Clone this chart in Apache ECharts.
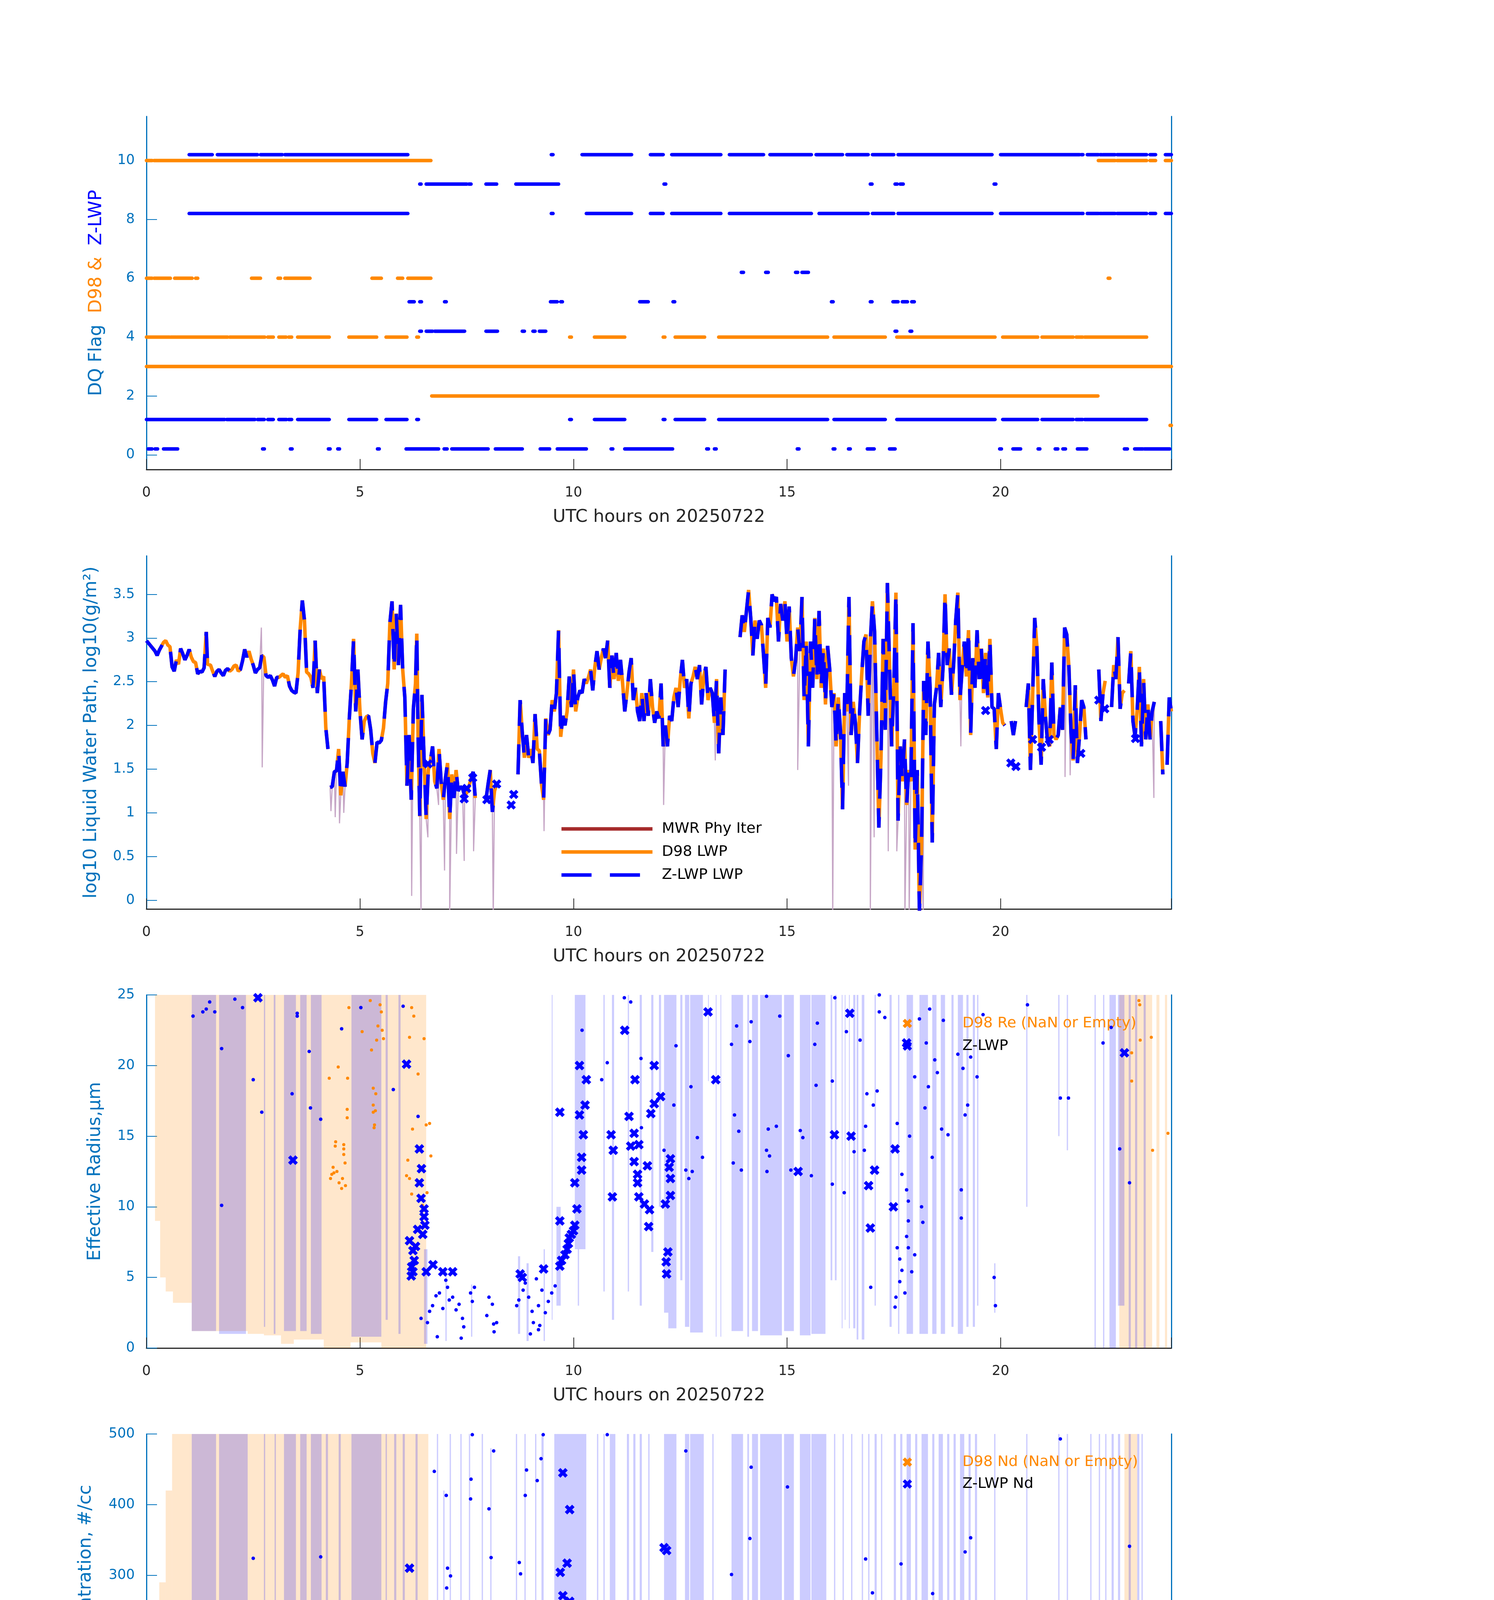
<!DOCTYPE html>
<html>
<head>
<meta charset="utf-8">
<script src="https://cdn.jsdelivr.net/npm/echarts@6/dist/echarts.min.js"></script>
<style>
  html, body { margin: 0; padding: 0; background: #fff; }
  #chart { width: 3825px; height: 6000px; }
</style>
</head>
<body>
<div id="chart"></div>
<script>
// ---- panel 1: DQ flags, [startHour, endHour] runs per flag level ----
const d98Flag10 = [[0,0.13],[0.18,0.26],[0.28,6.66],[22.29,22.68],[22.73,23.42],[23.5,23.63],[23.86,24]];
const d98Flag6 = [[0,0.13],[0.18,0.56],[0.66,1.07],[1.15,1.2],[2.46,2.67],[3.08,3.14],[3.24,3.83],[5.28,5.5],[5.88,6.0],[6.12,6.66],[22.52,22.56]];
const d98Flag4 = [[0,0.54],[0.57,0.69],[0.71,1.9],[1.95,2.6],[2.62,2.77],[2.84,2.97],[3.1,3.27],[3.33,3.4],[3.54,4.28],[4.74,5.39],[5.61,6.1],[6.33,6.37],[9.91,9.95],[10.49,11.2],[12.1,12.14],[12.38,13.07],[13.4,15.95],[16.1,17.3],[17.57,19.87],[20.05,20.87],[20.97,21.7],[21.77,21.92],[21.97,22.92],[22.94,23.42]];
const d98Flag3 = [[0,24]];
const d98Flag2 = [[6.68,22.28]];
const d98Flag1 = [[23.97,24]];
const zFlag10 = [[1.0,1.54],[1.66,2.6],[2.67,3.18],[3.24,6.12],[9.48,9.52],[10.2,11.36],[11.8,12.1],[12.3,13.45],[13.65,14.45],[14.6,15.57],[15.68,16.3],[16.4,16.9],[17.0,17.5],[17.6,19.8],[20.0,21.85],[21.89,21.93],[22.03,22.29],[22.33,22.37],[22.4,22.68],[22.73,23.42],[23.5,23.63],[23.86,24]];
const zFlag9 = [[6.4,6.43],[6.55,7.5],[7.55,7.6],[7.95,8.2],[8.65,9.65],[12.12,12.16],[16.95,16.99],[17.53,17.58],[17.65,17.72],[19.85,19.89]];
const zFlag8 = [[1.0,6.12],[9.48,9.52],[10.3,11.36],[11.8,12.1],[12.3,13.45],[13.65,15.57],[15.75,16.9],[17.0,17.5],[17.6,19.8],[20.0,21.85],[21.89,21.93],[22.03,22.29],[22.33,22.37],[22.4,22.68],[22.73,23.42],[23.5,23.63],[23.86,24]];
const zFlag6 = [[13.93,13.98],[14.5,14.56],[15.2,15.25],[15.35,15.5]];
const zFlag5 = [[6.15,6.27],[6.4,6.44],[6.98,7.02],[9.46,9.62],[9.7,9.74],[11.55,11.75],[12.33,12.37],[16.04,16.08],[16.95,16.99],[17.48,17.6],[17.7,17.82],[17.92,17.98]];
const zFlag4 = [[6.4,6.44],[6.55,6.7],[6.75,7.45],[7.95,8.22],[8.8,8.85],[9.05,9.1],[9.2,9.35],[17.53,17.57],[17.88,17.92]];
const zFlag1 = [[0,1.83],[1.88,2.54],[2.6,2.76],[2.84,2.97],[3.1,3.28],[3.33,3.4],[3.54,4.28],[4.74,5.39],[5.61,6.1],[6.33,6.37],[9.91,9.95],[10.49,11.2],[12.1,12.14],[12.38,13.07],[13.4,15.95],[16.1,17.3],[17.57,19.87],[20.05,20.87],[20.97,21.7],[21.77,21.92],[21.97,22.92],[22.94,23.42]];
const zFlag0 = [[0.04,0.13],[0.2,0.26],[0.4,0.73],[2.72,2.76],[3.37,3.41],[4.26,4.3],[4.48,4.52],[5.41,5.45],[6.08,6.84],[6.97,7.04],[7.15,8.0],[8.17,8.8],[9.22,9.44],[9.62,10.3],[10.88,10.92],[11.2,12.32],[13.12,13.16],[13.3,13.34],[15.24,15.28],[16.08,16.12],[16.44,16.48],[16.88,17.04],[17.4,17.53],[19.98,20.02],[20.29,20.47],[20.88,20.92],[21.28,21.34],[21.46,21.52],[21.8,22.02],[22.9,22.97],[23.14,23.33],[23.37,23.96]];
const d98FlagRows = [[d98Flag10,10],[d98Flag6,6],[d98Flag4,4],[d98Flag3,3],[d98Flag2,2],[d98Flag1,1]];
const zFlagRows = [[zFlag10,10.2],[zFlag9,9.2],[zFlag8,8.2],[zFlag6,6.2],[zFlag5,5.2],[zFlag4,4.2],[zFlag1,1.2],[zFlag0,0.2]];

// ---- panel 2: log10 LWP, [hour, value]; null = gap ----
const lwpLog = [[0,2.97],[0.1,2.91],[0.2,2.85],[0.25,2.8],[0.3,2.86],[0.4,2.95],[0.45,2.97],[0.5,2.92],[0.55,2.9],[0.6,2.67],[0.65,2.62],[0.7,2.75],[0.75,2.7],[0.8,2.88],[0.85,2.82],[0.9,2.75],[0.95,2.8],[1.0,2.87],[1.05,2.78],[1.1,2.73],[1.15,2.72],[1.2,2.59],[1.25,2.62],[1.3,2.61],[1.35,2.66],[1.4,3.07],[1.43,2.7],[1.5,2.69],[1.55,2.62],[1.6,2.56],[1.65,2.62],[1.7,2.64],[1.75,2.6],[1.8,2.57],[1.85,2.63],[1.9,2.65],[1.95,2.62],[2.0,2.64],[2.05,2.68],[2.1,2.69],[2.15,2.62],[2.2,2.64],[2.25,2.74],[2.3,2.87],[2.35,2.78],[2.4,2.85],[2.45,2.76],[2.5,2.69],[2.55,2.6],[2.6,2.64],[2.65,2.66],[2.7,2.8],[2.75,2.78],[2.8,2.57],[2.85,2.55],[2.9,2.57],[2.95,2.52],[3.0,2.45],[3.05,2.55],[3.1,2.55],[3.15,2.57],[3.2,2.59],[3.25,2.55],[3.3,2.57],[3.35,2.45],[3.4,2.4],[3.45,2.38],[3.5,2.37],[3.55,2.6],[3.6,3.11],[3.65,3.43],[3.7,3.2],[3.75,2.61],[3.8,2.59],[3.85,2.55],[3.9,2.43],[3.95,2.97],[4.0,2.37],[4.05,2.64],[4.1,2.53],[4.15,2.56],[4.2,1.97],[4.25,1.73],null,[4.3,1.29],[4.35,1.3],[4.4,1.47],[4.45,1.48],[4.5,1.73],[4.55,1.2],[4.6,1.47],[4.65,1.3],[4.7,1.57],[4.75,2.08],[4.8,2.48],[4.85,2.99],[4.9,2.16],[4.95,2.64],[5.0,2.16],[5.05,1.84],[5.1,2.05],[5.15,2.1],[5.2,2.11],[5.25,1.95],[5.3,1.68],[5.35,1.57],[5.4,1.81],[5.45,1.8],[5.5,1.83],[5.55,1.97],[5.6,2.27],[5.65,2.48],[5.7,3.17],[5.75,3.42],[5.8,2.64],[5.85,3.28],[5.9,2.69],[5.95,3.38],[6.0,2.64],[6.05,2.32],[6.1,1.31],[6.15,1.89],[6.2,1.15],[6.25,2.19],[6.3,2.48],[6.33,3.05],[6.36,1.89],[6.4,0.96],[6.45,2.35],[6.5,1.63],[6.55,0.93],[6.6,1.49],[6.65,1.6],[6.7,1.76],[6.75,1.36],[6.8,1.28],[6.85,1.73],[6.9,1.36],[6.95,1.15],[7.0,1.39],[7.05,1.57],[7.1,0.93],[7.15,1.44],[7.2,1.17],[7.25,1.49],[7.3,1.25],[7.35,1.3],[7.4,1.28],[7.45,1.2],[7.5,1.23],[7.55,1.3],[7.6,1.39],[7.65,1.47],[7.7,1.17],null,[7.95,1.15],[8.0,1.33],[8.05,1.49],[8.1,1.01],[8.15,1.25],[8.2,1.33],null,[8.7,1.44],[8.75,2.29],[8.8,1.92],[8.85,1.63],[8.9,1.89],[8.95,1.63],[9.0,1.73],[9.05,1.57],[9.1,2.13],[9.15,1.73],[9.2,1.71],[9.25,1.33],[9.3,1.15],[9.35,2.08],[9.4,1.89],[9.45,1.95],[9.5,2.29],[9.55,2.16],[9.6,2.37],[9.65,3.09],[9.7,1.87],[9.75,2.11],[9.8,2.0],[9.85,2.16],[9.9,2.56],[9.95,2.21],[10.0,2.64],[10.05,2.16],[10.1,2.32],[10.15,2.4],[10.2,2.37],[10.25,2.53],[10.3,2.48],[10.35,2.55],[10.4,2.64],[10.45,2.4],[10.5,2.67],[10.55,2.85],[10.6,2.64],[10.65,2.77],[10.7,2.88],[10.75,2.77],[10.8,2.97],[10.85,2.43],[10.9,2.8],[10.95,2.53],[11.0,2.83],[11.05,2.51],[11.1,2.75],[11.15,2.48],[11.2,2.16],[11.25,2.37],[11.3,2.61],[11.35,2.77],[11.4,2.29],[11.45,2.43],[11.5,2.16],[11.55,2.05],[11.6,2.37],[11.65,2.05],[11.7,2.37],[11.75,2.11],[11.8,2.53],[11.85,2.21],[11.9,2.03],[11.95,2.16],[12.0,2.08],[12.05,2.48],[12.1,1.76],[12.15,2.0],[12.2,1.76],[12.25,2.11],[12.3,2.05],[12.35,2.32],[12.4,2.43],[12.45,2.21],[12.5,2.53],[12.55,2.75],[12.6,2.43],[12.65,2.53],[12.7,2.08],[12.75,2.48],[12.8,2.56],[12.85,2.67],[12.9,2.53],[12.95,2.69],[13.0,2.24],[13.05,2.56],[13.1,2.67],[13.15,2.29],[13.2,2.43],[13.25,2.37],[13.3,2.03],[13.35,2.53],[13.4,1.68],[13.45,2.32],[13.5,1.89],[13.55,2.64],null,[13.9,3.01],[13.95,3.26],[14.0,3.07],[14.05,3.31],[14.1,3.55],[14.15,3.23],[14.2,2.8],[14.25,3.2],[14.3,2.99],[14.35,3.2],[14.4,3.15],[14.45,2.8],[14.5,2.43],[14.55,3.23],[14.6,3.12],[14.65,3.5],[14.7,3.42],[14.75,3.47],[14.8,2.96],[14.85,3.39],[14.9,3.2],[14.95,3.42],[15.0,2.96],[15.05,3.36],[15.1,2.77],[15.15,2.56],[15.2,2.75],[15.25,3.12],[15.3,2.85],[15.35,3.47],[15.4,2.29],[15.45,2.96],[15.5,1.76],[15.55,2.96],[15.6,2.43],[15.65,3.23],[15.7,2.53],[15.75,3.31],[15.8,2.43],[15.85,2.88],[15.9,2.24],[15.95,2.91],[16.0,2.64],[16.05,2.21],[16.1,2.37],[16.15,1.76],[16.2,2.32],[16.25,1.95],[16.3,1.04],[16.35,2.37],[16.4,2.16],[16.45,3.47],[16.5,1.89],[16.55,2.27],[16.6,2.03],[16.65,1.57],[16.7,2.16],[16.75,2.59],[16.8,2.96],[16.85,3.04],[16.9,2.11],[16.95,2.96],[17.0,3.42],[17.05,3.07],[17.1,1.95],[17.15,0.83],[17.2,1.63],[17.25,2.99],[17.3,1.95],[17.35,3.63],[17.4,2.69],[17.45,1.76],[17.5,2.43],[17.55,3.52],[17.6,0.91],[17.65,1.76],[17.7,1.36],[17.75,1.84],[17.8,1.09],[17.85,1.49],[17.9,1.36],[17.95,3.17],[18.0,0.58],[18.05,1.49],[18.1,-0.14],[18.15,0.64],[18.2,2.51],[18.25,1.89],[18.3,2.96],[18.35,2.43],[18.4,0.66],[18.45,2.24],[18.5,2.43],[18.55,2.83],[18.6,2.21],[18.65,2.64],[18.7,3.5],[18.75,2.69],[18.8,2.88],[18.85,2.35],[18.9,2.69],[18.95,3.2],[19.0,3.52],[19.05,2.29],[19.1,2.64],[19.15,2.96],[19.2,2.56],[19.25,3.09],[19.3,1.89],[19.35,2.77],[19.4,2.43],[19.45,3.09],[19.5,2.53],[19.55,2.88],[19.6,2.37],[19.65,2.83],[19.7,2.32],[19.75,2.99],[19.8,2.21],[19.85,2.19],[19.9,1.73],[19.95,2.37],[20.0,2.19],[20.05,2.03],[20.1,2.0],null,[20.25,2.05],[20.3,1.89],[20.35,2.05],null,[20.6,2.21],[20.65,2.48],[20.7,1.49],[20.75,2.32],[20.8,3.23],[20.85,2.91],[20.9,2.05],[20.95,1.55],[21.0,2.53],[21.05,2.11],[21.1,1.81],[21.15,1.76],[21.2,2.72],[21.25,1.89],[21.3,1.84],[21.35,1.89],[21.4,2.21],[21.45,1.95],[21.5,3.12],[21.55,3.04],[21.6,2.67],[21.65,1.92],[21.7,1.6],[21.75,2.46],[21.8,1.57],[21.85,1.89],[21.9,2.29],[21.95,2.21],[22.0,1.84],null,[22.3,2.64],[22.35,2.05],[22.4,2.37],[22.45,2.51],null,[22.6,2.21],[22.65,2.69],[22.7,2.53],[22.75,3.01],[22.8,2.19],[22.85,2.37],[22.9,2.4],null,[23.0,2.48],[23.05,2.85],[23.1,2.05],[23.15,1.87],[23.2,2.19],[23.25,2.67],[23.3,1.76],[23.35,2.53],[23.4,1.84],[23.45,2.24],[23.5,1.84],[23.55,2.16],[23.6,2.27],null,[23.75,2.05],[23.8,1.44],null,[23.9,1.55],[23.95,2.32],[24.0,2.16]];
const mwrDips = [[2.69,3.12],[2.71,1.52],[4.32,1.02],[4.42,0.95],[4.52,0.88],[4.62,1.0],[6.21,0.05],[6.43,-0.2],[6.59,0.72],[6.84,1.09],[6.98,0.34],[7.1,-0.2],[7.26,0.53],[7.44,0.45],[7.66,0.56],[8.12,-0.2],[9.31,0.79],[12.11,1.09],[13.32,1.6],[15.25,1.49],[16.07,-0.2],[16.44,1.31],[16.95,-0.2],[17.04,0.72],[17.37,0.56],[17.57,0.56],[17.76,-0.2],[17.86,-0.2],[18.19,-0.2],[19.07,1.76],[21.51,1.41],[21.63,1.43],[23.59,1.17]];
const lwpZCross = [[6.59,1.56],[7.44,1.16],[7.5,1.28],[7.64,1.4],[7.97,1.15],[8.2,1.33],[8.54,1.09],[8.6,1.21],[19.65,2.17],[20.24,1.57],[20.36,1.53],[20.75,1.84],[20.96,1.75],[21.14,1.84],[21.88,1.68],[22.3,2.29],[22.44,2.19],[23.16,1.85]];

// ---- shaded ranges, [startHour, endHour, low, high] ----
const reD98Band = [[0.2,0.32,9,25],[0.32,0.45,5,25],[0.45,0.62,4,25],[0.62,1.06,3.2,25],[1.06,2.37,1.2,25],[2.37,2.75,1.0,25],[2.75,3.15,0.9,25],[3.15,3.45,0.3,25],[3.45,4.15,0.6,25],[4.15,4.78,0,25],[4.78,5.5,0.4,25],[5.5,6.55,0,25],[22.78,23.55,0,25],[23.65,23.72,0,25],[23.85,23.9,0,25]];
const reZBand = [[1.06,1.63,1.2,25],[1.7,2.33,1.0,25],[2.75,2.78,1.5,25],[2.98,3.02,1.0,25],[3.22,3.5,1.2,25],[3.6,3.75,1.2,25],[3.85,4.1,1.0,25],[4.8,5.5,0.8,25],[5.6,5.65,2,25],[5.9,5.95,1,25],[6.5,6.58,0.3,7],[7.0,7.03,0.5,5.5],[7.6,7.63,0.8,4.5],[8.7,8.75,1,6.5],[8.9,8.95,0.5,6],[9.3,9.33,0.5,7],[9.49,9.51,2,25],[9.6,9.7,3,10],[10.03,10.28,7,25],[10.1,10.13,3,7],[10.7,10.73,4,25],[10.9,10.95,2,25],[11.27,11.3,4,25],[11.55,11.6,3,25],[11.82,11.87,6.8,25],[12.0,12.05,10,25],[12.12,12.22,2.5,25],[12.22,12.41,1.4,25],[12.5,12.55,4.8,25],[12.61,12.71,1.5,25],[12.73,13.03,1.1,25],[13.15,13.17,18.9,25],[13.33,13.35,0.8,25],[13.44,13.46,0.8,25],[13.7,13.97,1.2,25],[14.07,14.11,0.8,25],[14.18,14.32,1.2,25],[14.37,14.88,0.9,25],[14.93,15.16,1.2,25],[15.3,15.55,0.9,25],[15.57,15.9,1.0,25],[16.02,16.06,4.8,25],[16.12,16.16,4.8,25],[16.28,16.3,1.4,25],[16.35,16.37,2,25],[16.45,16.47,1.4,25],[16.55,16.6,1.4,25],[16.63,16.67,0.6,25],[16.75,16.81,0.6,25],[17.05,17.08,3,25],[17.4,17.45,1.5,25],[17.6,17.63,1,25],[17.8,17.95,1,25],[18.1,18.3,1,25],[18.4,18.5,1,25],[18.6,18.7,1,25],[18.85,18.9,1.5,25],[19.0,19.12,1,25],[19.2,19.25,1.5,25],[19.35,19.4,1.5,25],[19.45,19.48,3,25],[19.85,19.88,2.5,6],[20.6,20.63,10,25],[21.35,21.38,15,25],[21.55,21.58,14,25],[22.2,22.23,0,25],[22.4,22.43,0,25],[22.55,22.7,0,25],[22.75,22.9,3,25],[23.0,23.05,0,25],[23.15,23.2,0,25],[23.35,23.4,0,25]];
const ndD98Band = [[0.2,0.3,0,50],[0.3,0.45,0,290],[0.45,0.6,0,420],[0.6,1.06,0,500],[1.06,6.6,0,500],[22.9,23.2,0,500]];
const ndZBand = [[1.06,1.63,0,500],[1.7,2.37,0,500],[2.75,2.78,0,500],[3.0,3.03,0,500],[3.22,3.5,0,500],[3.6,3.75,0,500],[3.85,4.1,0,500],[4.2,4.25,0,500],[4.5,4.55,0,500],[4.8,5.5,0,500],[5.6,5.63,0,500],[5.8,5.85,0,500],[6.0,6.05,0,500],[6.3,6.35,0,500],[6.8,6.83,0,500],[6.95,6.98,0,420],[7.1,7.13,30,500],[7.35,7.38,0,500],[7.55,7.58,30,500],[7.85,7.88,50,500],[8.05,8.08,0,480],[8.65,8.68,0,500],[8.85,8.88,0,500],[9.1,9.13,0,500],[9.25,9.3,0,500],[9.55,10.3,0,500],[10.55,10.58,0,500],[10.7,10.73,0,500],[10.85,10.98,0,500],[11.25,11.3,0,500],[11.4,11.45,0,500],[11.55,11.6,0,500],[11.75,11.78,0,500],[12.12,12.41,0,500],[12.61,12.71,0,500],[12.73,13.05,0,500],[13.25,13.28,0,500],[13.7,13.97,0,500],[14.07,14.11,0,500],[14.18,14.32,0,500],[14.37,14.88,0,500],[14.93,15.16,0,500],[15.3,15.55,0,500],[15.57,15.92,0,500],[16.1,16.13,0,500],[16.3,16.33,0,500],[16.5,16.53,0,500],[16.75,16.78,0,500],[16.9,16.93,0,500],[17.05,17.1,0,500],[17.2,17.23,0,500],[17.5,17.55,0,500],[17.65,17.7,0,500],[17.8,17.9,0,500],[18.0,18.05,0,500],[18.15,18.3,0,500],[18.4,18.45,0,500],[18.55,18.65,0,500],[18.75,18.8,0,500],[18.9,18.95,0,500],[19.05,19.15,0,500],[19.25,19.3,0,500],[19.4,19.45,0,500],[19.85,19.88,0,500],[20.6,20.63,0,500],[21.35,21.38,0,500],[21.55,21.58,0,500],[22.1,22.13,0,500],[22.3,22.33,0,500],[22.45,22.48,0,500],[22.6,22.65,0,500],[22.75,22.8,0,500],[23.0,23.05,0,500],[23.2,23.25,0,500],[23.3,23.33,0,500]];
const odD98Band = [[0.2,4.15,7,100],[4.15,4.78,0,6],[4.78,4.95,0,100],[4.95,5.5,0,4],[5.6,6.1,3,100],[6.1,6.55,0,100],[22.75,23.1,3,100],[23.3,23.55,2,100]];
const odZBand = [[1.06,1.63,5,100],[1.7,2.33,5,100],[2.75,2.78,5,100],[3.0,3.03,4,100],[3.22,3.5,4,100],[3.6,3.75,4,100],[3.85,4.1,3,100],[5.02,5.05,2,90],[5.15,5.18,2,80],[5.3,5.33,2,75],[5.6,6.1,2,100],[6.7,6.73,2,60],[7.0,7.03,3,70],[7.25,7.28,2,55],[7.45,7.48,3,50],[7.9,7.93,3,50],[8.1,8.13,5,45],[8.7,8.73,10,75],[8.85,8.9,10,65],[9.05,9.1,5,80],[9.3,9.35,5,100],[9.45,9.5,10,100],[9.6,9.63,5,100],[9.75,9.78,5,100],[9.9,9.95,5,100],[10.05,10.1,5,100],[10.2,10.23,5,90],[10.75,10.98,3,100],[11.25,11.3,5,100],[11.5,11.55,5,100],[11.7,11.75,5,100],[12.12,12.41,2,100],[12.61,12.71,2,100],[12.73,13.05,2,100],[13.7,13.97,2,100],[14.07,14.11,2,100],[14.18,14.32,2,100],[14.37,14.88,2,100],[14.93,15.16,2,100],[15.3,15.55,2,100],[15.57,15.92,2,100],[16.1,16.13,2,100],[16.3,16.33,3,100],[16.55,16.58,2,100],[16.8,16.83,3,100],[17.05,17.1,2,100],[17.4,17.43,2,90],[17.55,17.6,2,100],[17.8,17.9,2,100],[18.1,18.3,2,100],[18.4,18.5,2,100],[18.6,18.7,2,100],[18.85,18.9,2,100],[19.0,19.1,2,100],[19.2,19.25,2,100],[19.35,19.4,2,100],[19.47,19.5,5,100],[19.85,19.88,10,55],[20.6,20.63,5,80],[21.3,21.33,5,70],[21.4,21.43,2,85],[21.55,21.58,5,70],[22.1,22.13,2,100],[22.3,22.33,2,100],[22.45,22.48,2,100],[22.6,22.7,2,100],[23.0,23.05,2,100],[23.2,23.25,2,100],[23.35,23.4,2,100]];

// ---- panel 3: effective radius points ----
const reZCross = [[2.61,24.8],[6.09,20.1],[3.43,13.3],[6.39,14.1],[6.44,12.7],[6.39,11.7],[6.43,10.6],[6.5,9.85],[6.5,9.3],[6.52,8.7],[6.47,8.05],[6.16,7.6],[6.24,6.9],[6.27,6.2],[6.21,5.75],[6.24,5.4],[6.3,7.2],[6.35,8.4],[6.2,5.1],[6.55,5.4],[6.71,5.9],[6.94,5.4],[7.17,5.4],[8.75,5.25],[8.8,5.0],[9.3,5.6],[9.68,5.8],[9.72,6.2],[9.68,9.0],[9.68,16.7],[9.8,6.6],[9.85,7.0],[9.88,7.4],[9.9,7.8],[9.95,8.05],[10.0,8.3],[10.03,8.7],[10.08,9.85],[10.03,11.7],[10.19,12.6],[10.19,13.5],[10.23,15.1],[10.14,16.5],[10.27,17.2],[10.3,19.0],[10.14,20.0],[10.88,15.1],[10.93,14.0],[10.91,10.7],[11.2,22.5],[11.3,16.4],[11.42,15.2],[11.34,14.3],[11.53,14.4],[11.42,13.2],[11.73,12.9],[11.5,12.3],[11.5,11.7],[11.53,10.7],[11.66,10.2],[11.78,9.8],[11.76,8.6],[11.44,19.0],[11.89,20.0],[11.89,17.3],[12.04,17.8],[11.81,16.6],[12.27,13.4],[12.24,12.8],[12.27,12.0],[12.27,10.8],[12.15,10.2],[12.21,6.8],[12.17,6.1],[12.18,5.25],[13.15,23.8],[13.33,19.0],[15.26,12.5],[16.11,15.1],[16.5,15.0],[16.47,23.7],[17.05,12.6],[16.91,11.5],[16.95,8.5],[17.49,10.0],[17.53,14.1],[17.8,21.6],[22.9,20.9]];
const reZDots = [[1.09,23.5],[1.32,23.8],[1.4,24.0],[1.48,24.5],[1.6,23.8],[2.07,24.7],[2.25,24.1],[1.76,21.2],[1.76,10.1],[2.5,19.0],[2.7,16.7],[3.53,23.7],[3.53,23.5],[3.81,21.0],[4.57,22.6],[5.02,24.1],[3.41,18.0],[3.84,17.0],[4.08,16.2],[5.78,18.3],[6.01,24.2],[6.36,16.4],[6.43,2.1],[6.63,2.6],[6.7,3.0],[6.78,3.7],[6.86,3.9],[6.94,2.8],[7.01,4.8],[7.05,4.3],[7.09,3.4],[7.17,3.6],[7.25,2.7],[7.32,3.1],[7.4,2.1],[7.43,1.5],[7.37,0.7],[7.59,3.9],[7.63,3.3],[7.68,4.3],[6.81,0.8],[6.58,1.8],[8.02,3.6],[8.1,3.1],[8.13,1.7],[8.14,1.15],[8.2,1.8],[7.97,2.3],[8.67,3.0],[8.72,3.4],[8.82,4.1],[8.87,4.6],[8.95,3.6],[9.03,2.6],[9.06,1.8],[9.13,4.9],[9.18,3.0],[9.26,4.1],[9.21,1.6],[9.34,2.5],[9.41,3.3],[9.49,3.9],[9.57,4.4],[8.99,1.0],[9.18,1.3],[10.2,22.5],[10.66,19.0],[10.79,20.2],[11.19,24.8],[11.34,24.5],[11.58,20.5],[11.59,15.6],[12.12,14.0],[12.35,17.2],[12.4,21.4],[12.63,12.6],[12.7,12.0],[12.75,18.5],[12.78,12.5],[12.9,14.9],[13.02,13.5],[13.7,21.5],[13.77,16.5],[13.82,22.8],[13.87,15.35],[13.74,13.1],[13.93,12.6],[14.13,21.7],[14.16,23.1],[14.52,24.9],[14.56,15.5],[14.59,13.6],[14.52,14.0],[14.53,12.5],[14.75,15.7],[14.83,23.5],[15.03,20.7],[15.09,12.6],[15.31,15.4],[15.37,14.9],[15.57,12.2],[15.65,21.5],[15.68,18.6],[15.71,23.0],[16.06,18.9],[16.06,11.6],[16.12,24.8],[16.34,11.0],[16.39,22.4],[16.57,13.9],[16.71,21.8],[16.81,14.0],[16.84,15.7],[16.87,18.0],[17.02,17.2],[17.11,18.2],[17.16,23.8],[17.16,25.0],[17.29,23.4],[16.96,4.3],[17.58,15.9],[17.69,12.3],[17.8,11.2],[17.84,10.4],[17.84,9.0],[17.8,7.9],[17.84,7.1],[17.58,7.1],[17.64,6.3],[17.69,5.5],[17.64,4.7],[17.76,3.9],[17.55,3.6],[17.53,2.9],[17.87,15.0],[17.92,5.4],[17.99,6.6],[17.99,19.2],[18.1,23.3],[18.15,10.0],[18.18,8.9],[18.23,17.0],[18.26,21.6],[18.31,18.5],[18.34,24.0],[18.4,13.5],[18.46,20.4],[18.52,19.5],[18.62,15.5],[18.66,23.2],[18.77,15.1],[19.0,20.8],[19.08,11.2],[19.08,9.2],[19.12,19.8],[19.17,16.5],[19.23,17.2],[19.3,20.6],[19.45,19.2],[19.59,23.6],[19.85,5.0],[19.88,3.0],[20.63,24.3],[21.4,17.7],[21.59,17.7],[22.4,21.6],[22.79,14.1],[23.02,11.7],[22.59,22.7]];
const reD98Dots = [[4.74,24.1],[5.24,24.6],[5.47,24.3],[5.5,23.8],[5.42,22.8],[5.52,22.5],[5.05,22.4],[5.39,21.8],[5.55,21.9],[5.27,21.1],[6.21,24.1],[6.26,23.5],[6.16,22.0],[6.5,21.9],[4.49,19.9],[4.28,19.1],[4.71,19.1],[5.31,18.4],[5.37,18.0],[6.36,19.4],[5.31,17.2],[5.36,16.8],[5.31,16.7],[4.7,16.9],[4.7,16.3],[5.34,15.8],[5.33,15.6],[6.63,15.9],[6.55,15.8],[6.23,15.5],[4.43,14.6],[4.62,14.4],[4.42,14.3],[4.62,14.1],[4.62,13.7],[4.46,12.5],[4.65,13.1],[4.37,12.8],[4.34,12.3],[4.39,12.4],[4.31,12.0],[4.59,12.0],[4.51,11.7],[4.66,11.5],[4.57,11.3],[6.12,13.3],[6.09,12.2],[6.16,12.0],[6.66,13.6],[6.57,11.0],[6.21,10.9],[6.46,10.1],[23.24,24.6],[23.26,24.3],[23.27,21.8],[23.07,20.9],[23.53,22.0],[23.07,18.9],[23.56,14.0],[23.92,15.2]];

// ---- panel 4: droplet concentration points ----
const ndZCross = [[9.75,445],[9.91,393],[9.85,317],[9.69,304],[9.75,271],[9.91,263],[9.88,245],[9.8,239],[10.0,214],[9.64,194],[9.92,190],[9.8,181],[9.83,175],[9.72,155],[10.03,157],[9.98,137],[10.06,111],[10.11,103],[9.8,93],[9.95,86],[10.11,86],[10.19,76],[10.08,70],[9.68,58],[10.14,47],[10.19,30],[10.27,17],[10.2,5],[10.3,3],[9.3,185],[9.27,114],[8.72,199],[8.81,258],[6.16,310],[6.27,229],[6.71,227],[6.71,190],[6.24,165],[6.32,153],[6.29,126],[6.35,104],[6.55,107],[6.2,93],[6.27,83],[6.5,96],[6.52,73],[6.3,75],[6.33,88],[6.42,52],[6.09,65],[6.39,57],[6.16,42],[6.21,34],[6.47,40],[6.39,17],[6.94,112],[7.17,94],[3.43,217],[2.61,22],[10.88,122],[10.93,114],[10.31,130],[11.32,221],[12.12,339],[12.18,335],[12.17,255],[12.2,185],[11.62,85],[11.78,85],[11.76,60],[11.53,57],[11.32,40],[11.47,34],[11.42,21],[11.27,12],[11.4,10],[11.6,15],[11.7,25],[11.85,8],[12.0,5],[12.2,8],[11.89,21],[12.12,60],[12.27,53],[12.24,34],[12.04,40],[12.27,14],[13.12,21],[13.33,9],[15.26,19],[16.48,153],[16.98,139],[17.49,91],[16.88,47],[16.42,24],[16.91,24],[16.99,21],[17.53,24],[22.9,17]];
const ndZDots = [[1.09,184],[1.77,177],[2.5,324],[4.08,326],[2.25,83],[2.67,61],[3.81,74],[3.94,67],[3.41,50],[1.14,35],[1.37,36],[1.32,25],[1.48,17],[1.6,19],[2.45,25],[3.18,22],[3.84,45],[3.95,21],[4.88,43],[5.02,31],[4.8,22],[5.22,29],[5.81,62],[5.72,39],[6.02,109],[6.24,253],[6.74,447],[7.02,413],[7.05,310],[7.12,299],[7.03,282],[7.06,230],[7.17,230],[7.63,499],[7.6,436],[7.59,408],[8.13,476],[8.02,394],[8.07,325],[8.73,318],[8.76,302],[8.87,413],[8.9,449],[9.15,434],[9.24,465],[9.29,499],[10.79,499],[10.66,142],[12.63,476],[12.91,207],[12.75,182],[12.99,38],[13.7,301],[13.82,211],[13.9,153],[13.92,135],[14.16,453],[14.13,352],[14.36,187],[14.5,196],[14.55,95],[14.75,247],[15.01,425],[15.01,66],[15.14,143],[14.83,52],[15.14,49],[15.68,37],[16.84,323],[16.98,184],[17.0,275],[17.16,238],[17.16,233],[17.29,255],[17.17,59],[17.67,316],[17.66,116],[17.99,114],[17.64,74],[17.84,64],[17.92,68],[18.1,58],[18.2,92],[18.51,122],[18.41,274],[18.62,134],[18.68,94],[19.0,111],[19.08,56],[19.17,333],[19.3,353],[19.24,151],[19.2,116],[19.4,127],[19.45,239],[20.63,147],[21.4,493],[22.38,115],[22.79,38],[23.02,341],[22.98,40]];
const ndZLowDots = [[1.1,2],[1.3,1],[1.5,3],[1.8,1],[2.0,2],[2.3,1],[2.6,4],[2.9,2],[3.2,1],[3.5,3],[3.8,2],[4.1,1],[4.4,2],[4.8,3],[5.1,1],[5.4,2],[5.7,4],[6.0,3],[6.3,2],[6.6,5],[9.4,2],[9.6,1],[10.3,2],[10.5,1],[10.7,3],[10.9,1],[11.1,2],[11.3,1],[11.5,4],[11.7,2],[11.9,3],[12.1,1],[12.3,2],[12.5,1],[12.7,1],[12.9,2],[13.1,1],[13.3,3],[13.5,1],[13.7,2],[13.9,1],[14.1,2],[14.3,3],[14.5,1],[14.7,2],[14.9,1],[15.1,3],[15.3,1],[15.5,2],[15.7,4],[15.9,2],[16.1,1],[16.3,3],[16.5,2],[16.7,5],[16.9,2],[17.1,1],[17.3,3],[17.5,1],[17.7,4],[17.9,2],[18.1,6],[18.3,3],[18.5,2],[18.7,5],[18.9,1],[19.1,3],[19.3,2],[19.5,1],[19.7,2],[20.0,1],[20.3,1],[20.6,2],[20.9,1],[21.2,2],[21.5,1],[21.8,3],[22.1,1],[22.4,2],[22.7,1],[23.0,4],[23.3,1],[23.6,2],[23.9,1]];
const ndD98Zero = [[0.24,0],[6.7,0]];

// ---- panel 5: optical depth points ----
const odZCross = [[9.63,97.7],[10.9,85.9],[9.91,81.0],[10.0,75.4],[9.69,72.5],[9.89,66.2],[9.98,62.3],[10.02,56.3],[8.73,61.5],[9.92,47.5],[6.33,55.3],[6.25,49.7],[6.29,38.9],[3.43,39.9],[2.61,26.6],[9.77,38.7],[10.26,37.7],[9.8,36.4],[10.03,35.1],[9.75,33.1],[9.95,33.1],[10.23,33.1],[10.26,31.1],[9.8,28.5],[10.03,27.2],[9.88,25.9],[10.15,23.9],[10.11,22.3],[9.8,22.0],[9.83,19.3],[10.11,18.0],[10.11,13.4],[10.11,11.5],[9.3,12.8],[9.27,7.9],[8.72,14.1],[8.81,17.7],[6.37,29.8],[6.4,27.9],[6.43,25.6],[6.27,23.6],[6.4,19.3],[6.5,17.4],[6.5,16.1],[6.68,15.4],[6.16,14.8],[6.2,12.8],[6.09,18.0],[6.32,13.4],[6.47,10.2],[6.71,8.2],[6.24,9.5],[6.55,5.9],[6.16,3.6],[6.94,6.6],[7.17,7.2],[10.88,40.3],[10.88,36.1],[11.32,45.6],[11.3,36.1],[11.5,36.1],[11.62,33.1],[11.38,31.5],[11.42,29.5],[11.7,29.2],[11.42,26.2],[11.76,25.6],[11.42,21.6],[11.78,20.0],[11.5,20.3],[11.58,17.4],[11.73,16.7],[11.81,14.8],[11.89,13.1],[11.55,11.8],[12.04,12.8],[12.12,14.1],[12.2,16.1],[12.27,20.0],[12.2,23.3],[12.23,25.9],[12.27,30.8],[12.35,34.4],[12.2,27.2],[11.19,8.9],[10.88,7.2],[13.15,11.5],[13.33,8.2],[15.26,7.5],[16.11,16.1],[16.48,20.0],[16.9,24.6],[16.95,12.1],[17.04,12.1],[16.47,9.2],[16.97,60.9],[16.9,2.4],[17.5,6.9],[17.53,5.6],[22.9,5.2]];
const odZDots = [[1.39,76.5],[1.76,71.1],[2.5,41.8],[2.7,58.0],[3.95,48.9],[3.69,39.9],[3.61,35.7],[4.08,34.8],[3.84,29.8],[3.77,22.6],[1.09,35.6],[1.04,26.1],[1.32,28.5],[1.48,28.5],[1.76,28.3],[2.07,27.2],[2.37,27.5],[2.44,32.1],[1.4,25.2],[1.45,23.0],[1.6,22.2],[1.14,20.0],[1.63,18.8],[1.42,18.7],[1.29,13.8],[1.83,12.8],[1.99,11.5],[2.19,16.1],[2.34,20.0],[2.45,15.4],[2.61,14.8],[2.76,18.0],[2.84,13.1],[2.89,10.2],[3.15,12.8],[3.23,15.4],[3.38,12.1],[3.46,11.5],[3.57,20.7],[3.74,18.0],[3.92,14.4],[3.95,11.5],[3.19,24.3],[3.41,25.8],[3.61,22.3],[1.17,9.5],[1.52,8.9],[1.91,7.5],[2.22,7.2],[2.99,5.6],[3.07,5.2],[3.92,8.2],[4.08,7.2],[4.23,3.6],[4.34,0.7],[4.54,0.3],[4.62,1.6],[4.85,12.8],[4.93,6.9],[5.0,4.9],[5.13,2.3],[5.24,1.6],[5.39,2.3],[5.5,3.6],[4.85,23.3],[5.7,32.1],[5.75,42.2],[5.85,36.7],[5.93,40.3],[5.96,34.4],[5.72,30.2],[5.82,21.3],[5.89,17.4],[5.98,22.6],[5.67,9.5],[5.78,12.5],[5.85,7.5],[6.01,6.2],[6.81,38.0],[6.86,23.0],[7.37,36.1],[7.01,12.8],[7.09,10.8],[7.17,8.9],[7.32,14.8],[7.4,15.4],[7.45,18.4],[7.63,14.8],[7.63,7.5],[7.09,3.6],[6.94,8.9],[7.99,9.5],[8.07,14.8],[8.13,20.0],[8.2,18.4],[8.02,8.9],[8.72,22.3],[8.78,26.2],[8.83,35.4],[8.87,39.0],[8.9,42.3],[8.98,40.7],[8.95,34.1],[8.8,42.6],[9.0,71.5],[9.18,90.2],[9.23,67.2],[9.2,64.7],[9.35,95.4],[9.37,88.9],[9.49,90.2],[9.49,86.2],[9.46,81.0],[9.57,67.2],[9.57,64.9],[9.6,69.8],[9.61,75.7],[9.44,45.9],[9.57,44.3],[9.57,49.8],[8.95,28.2],[8.99,27.2],[8.99,24.6],[9.26,20.0],[9.03,17.4],[9.26,11.1],[9.52,5.6],[10.49,7.5],[10.42,4.9],[10.57,10.8],[10.51,3.9],[10.8,14.8],[10.96,10.2],[11.04,16.7],[11.07,8.9],[11.27,5.6],[10.79,71.9],[12.12,4.9],[11.96,5.9],[12.43,4.3],[12.51,11.8],[12.58,7.9],[12.66,37.4],[12.74,36.4],[12.74,23.6],[12.86,17.7],[12.89,21.0],[13.02,45.2],[12.97,3.0],[13.05,6.2],[13.2,1.6],[13.4,19.0],[13.43,1.0],[13.71,21.0],[13.77,62.3],[13.87,53.1],[13.94,60.0],[14.0,43.9],[14.02,36.7],[13.82,26.6],[13.88,23.6],[14.01,18.7],[14.04,16.7],[14.05,24.6],[14.13,13.8],[14.16,81.6],[14.16,88.9],[14.19,58.7],[14.32,27.2],[14.36,94.8],[14.39,65.9],[14.39,60.0],[14.44,43.0],[14.41,34.4],[14.47,80.3],[14.52,83.6],[14.56,89.2],[14.59,82.0],[14.64,96.2],[14.67,87.5],[14.72,77.7],[14.75,70.2],[14.8,19.3],[14.84,44.3],[14.87,27.9],[14.9,17.7],[15.01,65.2],[15.06,39.0],[15.14,36.4],[15.15,45.9],[14.87,8.9],[14.98,13.4],[15.21,8.9],[15.29,26.2],[15.32,4.9],[15.37,19.7],[15.41,43.9],[15.49,49.8],[15.52,16.1],[15.6,43.3],[15.68,45.2],[15.71,54.8],[15.74,31.5],[15.37,94.6],[15.99,6.2],[16.14,3.3],[16.22,33.8],[16.22,60.0],[16.34,20.3],[16.53,16.7],[16.58,79.0],[16.64,23.0],[16.76,62.6],[16.84,56.7],[17.01,27.9],[17.07,10.2],[17.12,2.6],[17.3,40.7],[17.35,8.2],[17.53,4.3],[17.69,40.0],[17.69,24.6],[17.84,7.5],[17.92,11.5],[17.99,16.4],[18.08,18.7],[18.15,45.6],[18.23,19.0],[18.26,16.4],[18.31,10.8],[18.38,21.6],[18.38,8.9],[18.43,81.0],[18.51,35.1],[18.57,14.1],[18.62,22.6],[18.66,43.0],[18.69,54.8],[18.72,52.1],[18.76,78.7],[18.77,69.5],[18.8,18.4],[18.82,39.0],[18.89,14.1],[18.93,37.0],[19.0,47.2],[19.02,16.7],[19.08,18.0],[19.16,32.8],[19.2,76.9],[19.23,22.0],[19.3,52.0],[19.31,27.5],[19.39,37.0],[19.44,33.1],[19.47,25.2],[19.51,12.8],[19.62,6.2],[19.7,3.6],[19.85,30.5],[19.87,46.6],[20.13,6.9],[20.17,1.6],[20.44,5.6],[20.55,26.6],[20.6,14.8],[20.63,80.7],[20.7,3.0],[20.86,10.5],[21.01,10.8],[21.09,4.9],[21.32,28.5],[21.37,26.6],[21.4,24.6],[21.38,81.0],[21.4,5.6],[21.48,1.6],[21.6,4.3],[21.71,2.3],[21.79,4.3],[22.11,17.4],[22.17,9.5],[22.25,4.3],[22.4,35.7],[22.53,13.4],[22.56,9.5],[22.79,79.7],[22.82,21.6],[22.99,29.2],[23.1,13.4],[23.18,4.3],[23.29,2.0],[23.41,0.7],[23.72,4.9],[23.95,7.5]];
const odD98 = [[0.24,7.0],[0.5,6.9],[0.8,7.0],[1.0,6.8],[1.3,6.9],[1.6,7.0],[1.9,6.9],[2.2,6.9],[2.5,6.7],[2.8,6.8],[3.1,6.6],[3.4,6.5],[3.7,6.3],[4.0,6.2],[4.1,5.5],[4.2,4.5],[4.25,3.0],[4.3,2.2],[4.35,1.5],[4.45,2.5],[4.55,1.0],[4.65,3.0],[4.72,5.0],[4.8,6.3],[4.88,6.8],[4.95,5.5],[5.05,4.0],[5.12,3.0],[5.2,2.0],[5.3,2.6],[5.4,3.5],[5.5,5.0],[5.6,6.2],[5.7,6.8],[5.8,6.9],[5.9,6.0],[6.0,4.6],[6.08,4.0],[6.15,5.5],[6.25,4.5],[6.35,2.6],[6.45,1.5],[6.55,2.8],[6.65,2.0],null,[22.45,6.5],[22.55,5.4],[22.65,6.2],[22.75,5.2],[22.85,6.2],[22.95,5.8],[23.05,5.0],[23.15,6.0],[23.25,5.0],[23.35,4.5],[23.45,5.6],[23.55,4.0],[23.65,3.1],[23.75,3.5],[23.9,4.8],[24.0,5.6]];

// ---- layout / style constants ----
const BLUE = '#0000FF', ORANGE = '#FF8800', AXBLUE = '#0072BD', DARK = '#262626';
const FONT = 'DejaVu Sans';
const X_SYMBOL = 'path://M0,2.5L2.5,0L5,2.5L7.5,0L10,2.5L7.5,5L10,7.5L7.5,10L5,7.5L2.5,10L0,7.5L2.5,5Z';
const panelTops = [298, 1423, 2547, 3671, 4797];
const panelH = 904;
const yRanges = [[-0.5, 11.5], [-0.1, 3.94], [0, 25], [0, 500], [0, 100]];
const yTicks = [[0,2,4,6,8,10], [0,0.5,1,1.5,2,2.5,3,3.5], null, null, null];
const yIntervals = [null, null, 5, 100, 20];
const yNameGaps = [105, 118, 108, 132, 132];

function gapped(pairs) {
  // null entries become breaks in the line
  const out = [];
  let lastX = 0;
  pairs.forEach(p => {
    if (p === null) out.push([lastX + 0.001, null]);
    else { out.push(p); lastX = p[0]; }
  });
  return out;
}

function runsToLine(runs, level) {
  const out = [];
  runs.forEach(([a, b]) => {
    out.push([a, level], [Math.max(b, a + 0.03), level], [b, null]);
  });
  return out;
}

function bandSeries(idx, bands, color, z) {
  return {
    type: 'custom', xAxisIndex: idx, yAxisIndex: idx * 2, silent: true, z: z, clip: true,
    data: bands,
    encode: { x: [0, 1], y: [2, 3] },
    renderItem: (params, api) => {
      const p0 = api.coord([api.value(0), api.value(3)]);
      const p1 = api.coord([api.value(1), api.value(2)]);
      return {
        type: 'rect',
        shape: { x: p0[0], y: p0[1], width: Math.max(2, p1[0] - p0[0]), height: p1[1] - p0[1] },
        style: { fill: color }
      };
    }
  };
}

function scatter(idx, name, data, color, symbol, size, z) {
  return {
    type: 'scatter', name: name, xAxisIndex: idx, yAxisIndex: idx * 2, data: data,
    symbol: symbol, symbolSize: size, itemStyle: { color: color, opacity: 1 }, z: z, silent: true
  };
}

const grids = panelTops.map(t => ({ left: 375, top: t, width: 2624, height: panelH }));

const xAxes = panelTops.map((t, i) => ({
  gridIndex: i, type: 'value', min: 0, max: 24, interval: 5,
  axisLine: { show: true, onZero: false, lineStyle: { color: DARK, width: 3 } },
  axisTick: { show: true, inside: true, length: 27, lineStyle: { color: DARK, width: 2 } },
  axisLabel: { color: DARK, fontSize: 35, fontFamily: FONT, margin: 42,
    formatter: v => (v % 5 === 0 ? String(v) : '') },
  splitLine: { show: false },
  name: 'UTC hours on 20250722', nameLocation: 'middle', nameGap: 100,
  nameTextStyle: { color: DARK, fontSize: 45, fontFamily: FONT }
}));

const yNames = [
  '{a|DQ Flag}  {b|D98 &}  {c|Z-LWP}',
  'log10 Liquid Water Path, log10(g/m²)',
  'Effective Radius,μm',
  'Droplet Concentration, #/cc',
  'Optical Depth'
];

const yAxes = [];
panelTops.forEach((t, i) => {
  const left = {
    gridIndex: i, type: 'value', min: yRanges[i][0], max: yRanges[i][1],
    axisLine: { show: true, onZero: false, lineStyle: { color: AXBLUE, width: 3 } },
    axisTick: { show: true, inside: true, length: 27, lineStyle: { color: AXBLUE, width: 2 } },
    axisLabel: { color: AXBLUE, fontSize: 35, fontFamily: FONT, margin: 30 },
    splitLine: { show: false },
    name: yNames[i], nameLocation: 'middle', nameRotate: 90, nameGap: yNameGaps[i],
    nameTextStyle: {
      color: AXBLUE, fontSize: 46, fontFamily: FONT,
      rich: {
        a: { color: AXBLUE, fontSize: 46, fontFamily: FONT },
        b: { color: ORANGE, fontSize: 46, fontFamily: FONT },
        c: { color: BLUE, fontSize: 46, fontFamily: FONT }
      }
    }
  };
  if (yIntervals[i]) left.interval = yIntervals[i];
  if (yTicks[i]) {
    left.axisLabel.customValues = yTicks[i];
    left.axisTick.customValues = yTicks[i];
  }
  yAxes.push(left);
  yAxes.push({
    gridIndex: i, type: 'value', position: 'right', min: yRanges[i][0], max: yRanges[i][1],
    axisLine: { show: true, onZero: false, lineStyle: { color: AXBLUE, width: 3 } },
    axisTick: { show: false }, axisLabel: { show: false }, splitLine: { show: false }
  });
});

const series = [];

// panel 1
d98FlagRows.forEach(([runs, level]) => {
  series.push({ type: 'line', xAxisIndex: 0, yAxisIndex: 0, data: runsToLine(runs, level),
    showSymbol: false, symbol: 'none', silent: true, z: 2,
    lineStyle: { color: ORANGE, width: 9, cap: 'round' } });
});
zFlagRows.forEach(([runs, level]) => {
  series.push({ type: 'line', xAxisIndex: 0, yAxisIndex: 0, data: runsToLine(runs, level),
    showSymbol: false, symbol: 'none', silent: true, z: 3,
    lineStyle: { color: BLUE, width: 9, cap: 'round' } });
});

// panel 2: MWR keeps the same gaps as the retrievals, plus its own dips
const mwrData = gapped(lwpLog).concat(mwrDips).sort((a, b) => a[0] - b[0]);
series.push({ type: 'line', name: 'MWR Phy Iter', xAxisIndex: 1, yAxisIndex: 2, data: mwrData,
  showSymbol: false, symbol: 'none', silent: true, z: 2,
  itemStyle: { color: '#A52A2A' }, lineStyle: { color: '#C6A6C6', width: 3 } });
series.push({ type: 'line', name: 'D98 LWP', xAxisIndex: 1, yAxisIndex: 2, data: gapped(lwpLog),
  showSymbol: false, symbol: 'none', silent: true, z: 3,
  itemStyle: { color: ORANGE }, lineStyle: { color: ORANGE, width: 9 } });
series.push({ type: 'line', name: 'Z-LWP LWP', xAxisIndex: 1, yAxisIndex: 2, data: gapped(lwpLog),
  showSymbol: false, symbol: 'none', silent: true, z: 4,
  itemStyle: { color: BLUE }, lineStyle: { color: BLUE, width: 9, type: [77, 47] } });
series.push(scatter(1, 'Z-LWP LWP pts', lwpZCross, BLUE, X_SYMBOL, 24, 5));

// panel 3
series.push(bandSeries(2, reD98Band, 'rgba(255,136,0,0.2)', 1));
series.push(bandSeries(2, reZBand, 'rgba(0,0,255,0.2)', 1));
series.push(scatter(2, 'D98 Re (NaN or Empty)', reD98Dots, ORANGE, 'circle', 8, 4));
series.push(scatter(2, 'Z-LWP dots', reZDots, BLUE, 'circle', 9, 4));
series.push(scatter(2, 'Z-LWP', reZCross, BLUE, X_SYMBOL, 25, 5));

// panel 4
series.push(bandSeries(3, ndD98Band, 'rgba(255,136,0,0.2)', 1));
series.push(bandSeries(3, ndZBand, 'rgba(0,0,255,0.2)', 1));
series.push({ type: 'line', name: 'D98 Nd (NaN or Empty)', xAxisIndex: 3, yAxisIndex: 6, data: ndD98Zero,
  showSymbol: false, symbol: 'none', silent: true, z: 4, clip: false,
  itemStyle: { color: ORANGE }, lineStyle: { color: ORANGE, width: 9 } });
series.push(scatter(3, 'Z-LWP Nd dots', ndZDots.concat(ndZLowDots), BLUE, 'circle', 9, 4));
series.push(scatter(3, 'Z-LWP Nd', ndZCross, BLUE, X_SYMBOL, 25, 5));

// panel 5
series.push(bandSeries(4, odD98Band, 'rgba(255,136,0,0.2)', 1));
series.push(bandSeries(4, odZBand, 'rgba(0,0,255,0.2)', 1));
series.push({ type: 'line', name: 'D98 OD (NaN or Empty)', xAxisIndex: 4, yAxisIndex: 8, data: gapped(odD98),
  showSymbol: false, symbol: 'none', silent: true, z: 3,
  itemStyle: { color: ORANGE }, lineStyle: { color: ORANGE, width: 9 } });
series.push(scatter(4, 'Z-LWP OD dots', odZDots, BLUE, 'circle', 9, 4));
series.push(scatter(4, 'Z-LWP Nd', odZCross, BLUE, X_SYMBOL, 25, 5));

const legendText = { fontSize: 38, fontFamily: FONT, color: '#000', lineHeight: 40 };
const hiddenDot = { opacity: 0 };
const legends = [
  { left: 1433, top: panelTops[1] + 679, orient: 'vertical', padding: 0, itemWidth: 233, itemHeight: 12, itemGap: 19,
    textStyle: Object.assign({}, legendText, { padding: [0, 0, 0, 19] }),
    data: [
      { name: 'MWR Phy Iter', itemStyle: hiddenDot, lineStyle: { color: '#A52A2A', width: 9, opacity: 1 } },
      { name: 'D98 LWP', itemStyle: hiddenDot, lineStyle: { color: ORANGE, width: 9, opacity: 1 } },
      { name: 'Z-LWP LWP', itemStyle: hiddenDot, lineStyle: { color: BLUE, width: 9, opacity: 1, type: [77, 47] } }
    ] },
  { left: 2311, top: panelTops[2] + 53, orient: 'vertical', padding: 0, itemWidth: 24, itemHeight: 24, itemGap: 18,
    textStyle: Object.assign({}, legendText, { padding: [0, 0, 0, 124] }),
    data: [
      { name: 'D98 Re (NaN or Empty)', icon: X_SYMBOL, textStyle: { color: ORANGE } },
      { name: 'Z-LWP', icon: X_SYMBOL }
    ] },
  { left: 2311, top: panelTops[3] + 52, orient: 'vertical', padding: 0, itemWidth: 24, itemHeight: 24, itemGap: 16,
    textStyle: Object.assign({}, legendText, { padding: [0, 0, 0, 124] }),
    data: [
      { name: 'D98 Nd (NaN or Empty)', icon: X_SYMBOL, textStyle: { color: ORANGE } },
      { name: 'Z-LWP Nd', icon: X_SYMBOL }
    ] },
  { left: 2082, top: panelTops[4] + 53, orient: 'vertical', padding: 0, itemWidth: 24, itemHeight: 24, itemGap: 17,
    textStyle: Object.assign({}, legendText, { padding: [0, 0, 0, 128] }),
    data: [
      { name: 'D98 OD (NaN or Empty)', icon: X_SYMBOL, textStyle: { color: ORANGE } },
      { name: 'Z-LWP Nd', icon: X_SYMBOL }
    ] }
];

const chart = echarts.init(document.getElementById('chart'), null, { renderer: 'canvas' });
chart.setOption({
  backgroundColor: '#fff',
  animation: false,
  grid: grids,
  xAxis: xAxes,
  yAxis: yAxes,
  legend: legends,
  series: series
});
</script>
</body>
</html>
